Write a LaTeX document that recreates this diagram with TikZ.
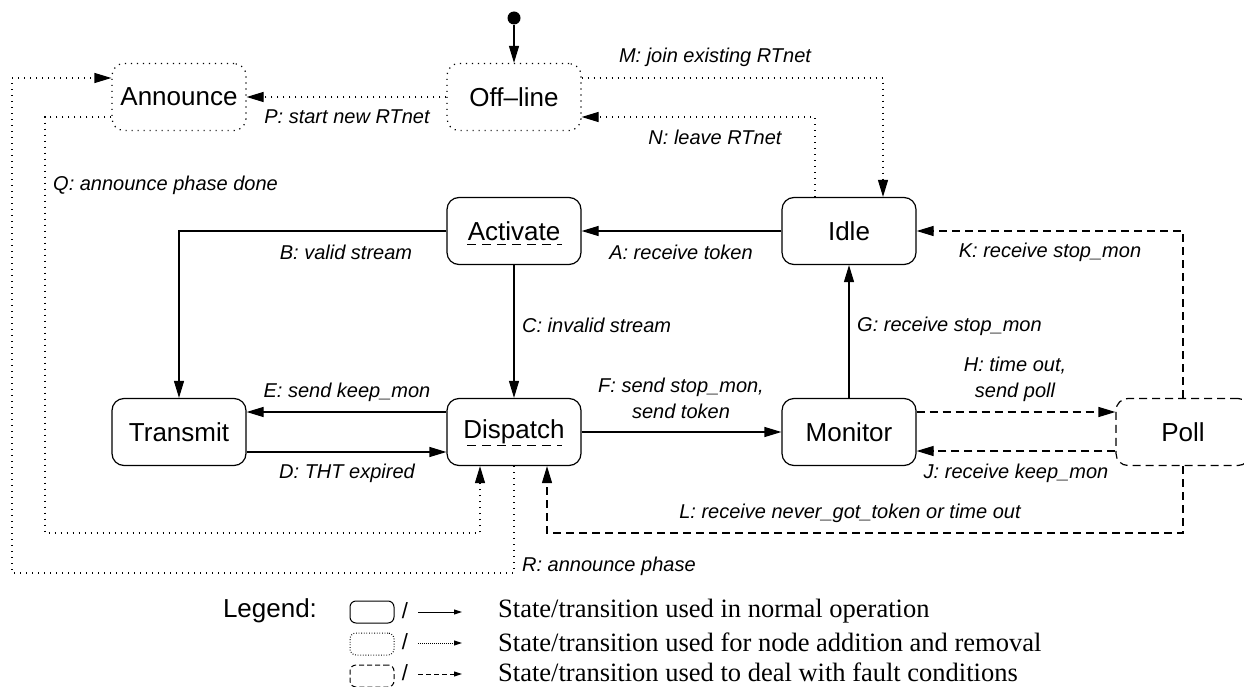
\documentclass[tikz,border=0pt]{standalone}
\usepackage{fontspec}
\setmainfont{Liberation Sans}
\newfontfamily\legserif{Liberation Serif}
\usetikzlibrary{arrows.meta}
\begin{document}
\begin{tikzpicture}[x=1pt,y=-1pt,
  state/.style={draw, rounded corners=12pt, minimum width=134pt, minimum height=67pt,
    font=\fontsize{26}{30}\selectfont, line width=1.2pt, inner sep=0pt},
  normal/.style={line width=1.2pt},
  addrem/.style={line width=1.2pt, dash pattern=on 1.2pt off 4.8pt},
  fault/.style={line width=1.2pt, dash pattern=on 8pt off 5pt},
  tip/.style={-{Triangle[length=17pt,width=10pt]}},
  lbl/.style={font=\fontsize{20}{26}\selectfont\itshape, inner sep=0pt, align=center},
  ul/.style={line width=1pt, dash pattern=on 9pt off 6pt},
  legbox/.style={draw, rounded corners=6pt, minimum width=44pt, minimum height=22pt, inner sep=0pt, line width=1pt},
  legtip/.style={-{Triangle[length=8pt,width=5pt]}, line width=1pt},
  legtext/.style={anchor=west, font=\legserif\fontsize{26.5}{30}\selectfont, inner sep=0pt},
  slash/.style={font=\fontsize{22}{26}\selectfont, inner sep=0pt},
]
\useasboundingbox (0,0) rectangle (1244,687);

% states
\node[state, addrem] (announce) at (179,97) {Announce};
\node[state, addrem] (offline) at (514,97) {Off--line};
\node[state] (activate) at (514,231) {Activate};
\node[state] (idle) at (849,231) {Idle};
\node[state] (transmit) at (179,432) {Transmit};
\node[state] (dispatch) at (514,432) {Dispatch};
\node[state] (monitor) at (849,432) {Monitor};
\node[state, fault] (poll) at (1183,432) {Poll};
\node[circle, fill, inner sep=0pt, minimum size=13pt] (init) at (514,18) {};

% underlines
\draw[ul] ([xshift=-47pt,yshift=-13pt]activate.center) -- ([xshift=48pt,yshift=-13pt]activate.center);
\draw[ul] ([xshift=-47pt,yshift=-13pt]dispatch.center) -- ([xshift=48pt,yshift=-13pt]dispatch.center);

% helper coordinates
\coordinate (qc) at (45,533);
\coordinate (rc) at (12,573);
\coordinate (lc) at (1183,533);

% transitions
\draw[normal,tip] (init) -- (offline);
\draw[addrem,tip] (offline.west) -- (announce.east);
\draw[addrem,tip] ([yshift=19pt]offline.east) -| ([xshift=34pt]idle.north);
\draw[addrem,tip] ([xshift=-34pt]idle.north) |- ([yshift=-20pt]offline.east);
\draw[normal,tip] (idle) -- (activate);
\draw[normal,tip] (activate.west) -| (transmit.north);
\draw[normal,tip] (activate) -- (dispatch);
\draw[normal,tip] ([yshift=20pt]dispatch.west) -- ([yshift=20pt]transmit.east);
\draw[normal,tip] ([yshift=-20pt]transmit.east) -- ([yshift=-20pt]dispatch.west);
\draw[normal,tip] (dispatch) -- (monitor);
\draw[normal,tip] (monitor) -- (idle);
\draw[fault,tip] ([yshift=20pt]monitor.east) -- ([yshift=20pt]poll.west);
\draw[fault,tip] ([yshift=-19pt]poll.west) -- ([yshift=-19pt]monitor.east);
\draw[fault,tip] (poll.north) |- (idle.east);
\draw[fault,tip] (poll.south) -- (lc) -| ([xshift=33pt]dispatch.south);
\draw[addrem,tip] ([yshift=-20pt]announce.west) -| (qc) -| ([xshift=-34pt]dispatch.south);
\draw[addrem,tip] (dispatch.south) |- (rc) |- ([yshift=19pt]announce.west);

% labels
\node[lbl] (lP) at (347,117) {P: start new RTnet};
\node[lbl] (lM) at (715,57) {M: join existing RTnet};
\node[lbl] (lN) at (715,137) {N: leave RTnet};
\node[lbl, anchor=west] (lQ) at (53,185) {Q: announce phase done};
\node[lbl] (lA) at (681,252) {A: receive token};
\node[lbl] (lB) at (346,252) {B: valid stream};
\node[lbl, anchor=west] (lC) at (522,325) {C: invalid stream};
\node[lbl] (lK) at (1050,252) {K: receive stop\_mon};
\node[lbl, anchor=west] (lG) at (857,326) {G: receive stop\_mon};
\node[lbl] (lE) at (347,392) {E: send keep\_mon};
\node[lbl] (lD) at (347,473) {D: THT expired};
\node[lbl] (lF) at (681,398) {F: send stop\_mon,\\send token};
\node[lbl] (lH) at (1015,379) {H: time out,\\send poll};
\node[lbl] (lJ) at (1016,473) {J: receive keep\_mon};
\node[lbl] (lL) at (850,513) {L: receive never\_got\_token or time out};
\node[lbl, anchor=west] (lR) at (522,566) {R: announce phase};

% legend
\node[font=\fontsize{26}{30}\selectfont, inner sep=0pt] (legend) at (270,611) {Legend:};
\node[legbox] (lb1) at (372,612) {};
\node[legbox, dash pattern=on 0.8pt off 1.8pt] (lb2) at (372,644) {};
\node[legbox, dash pattern=on 5pt off 3pt] (lb3) at (372,676) {};
\node[slash] (s1) at (405,611) {/};
\node[slash] (s2) at (405,642) {/};
\node[slash] (s3) at (405,673) {/};
\coordinate (a1s) at (418,612); \coordinate (a1e) at (462,612);
\coordinate (a2s) at (418,643); \coordinate (a2e) at (462,643);
\coordinate (a3s) at (418,674); \coordinate (a3e) at (462,674);
\draw[legtip] (a1s) -- (a1e);
\draw[legtip, dash pattern=on 0.8pt off 1.2pt] (a2s) -- (a2e);
\draw[legtip, dash pattern=on 5pt off 3pt] (a3s) -- (a3e);
\node[legtext] (t1) at (498,611) {State/transition used in normal operation};
\node[legtext] (t2) at (498,642) {State/transition used for node addition and removal};
\node[legtext] (t3) at (498,672) {State/transition used to deal with fault conditions};
\end{tikzpicture}
\end{document}
